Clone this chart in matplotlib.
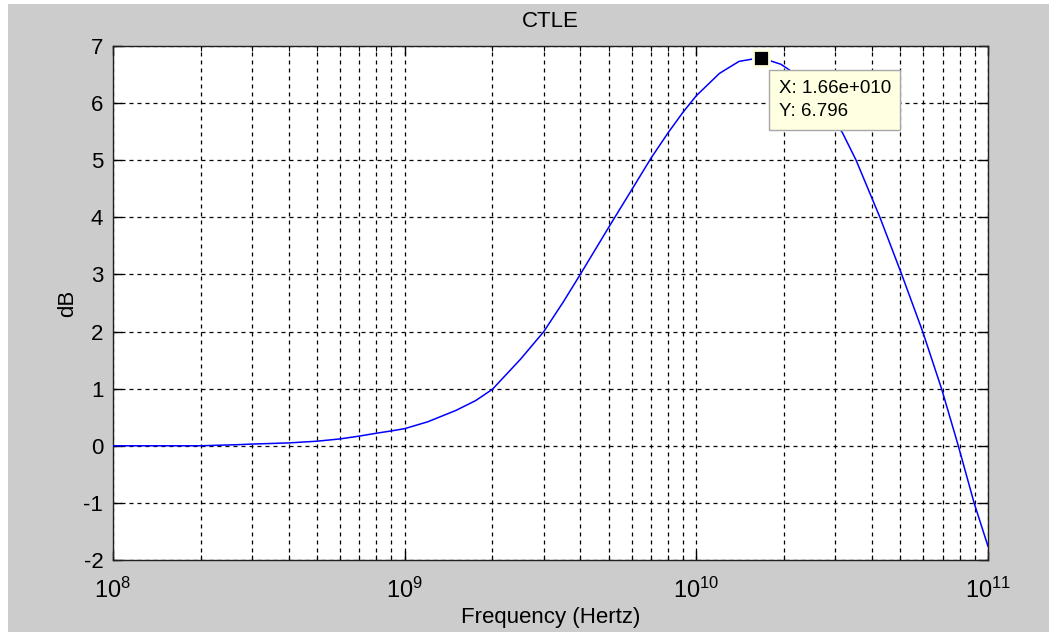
import matplotlib
matplotlib.use("Agg")
import matplotlib.pyplot as plt
from matplotlib.patches import Rectangle
from matplotlib.ticker import LogLocator, NullFormatter, FixedLocator

plt.rcParams['font.family'] = ['Liberation Sans', 'DejaVu Sans']
plt.rcParams['mathtext.default'] = 'regular'
plt.rcParams['axes.unicode_minus'] = False

# values
freq = [1e8, 2e8, 2.7e8, 3e8, 4e8, 5e8, 6e8, 7e8, 8e8, 9e8,
        1e9, 1.2e9, 1.5e9, 1.75e9, 2e9, 2.5e9, 3e9, 3.5e9, 4e9, 5e9,
        6e9, 7e9, 8e9, 9e9, 1e10, 1.2e10, 1.4e10, 1.66e10, 1.95e10, 2.2e10,
        2.5e10, 2.8e10, 3.17e10, 3.53e10, 4.26e10, 5.06e10, 5.97e10, 6.93e10, 7.91e10, 8.96e10,
        1e11]
db = [0, 0, 0.02, 0.03, 0.05, 0.08, 0.12, 0.17, 0.22, 0.26,
      0.30, 0.42, 0.62, 0.79, 0.99, 1.52, 2.0, 2.52, 3.0, 3.82,
      4.48, 5.04, 5.48, 5.84, 6.13, 6.52, 6.73, 6.796, 6.68, 6.5,
      6.2, 5.88, 5.48, 5.0, 4.0, 3.0, 2.0, 1.0, 0.0, -1.0,
      -1.76]

tip_x = 1.66e10
tip_y = 6.796
y_ticks = [-2, -1, 0, 1, 2, 3, 4, 5, 6, 7]

fig = plt.figure(figsize=(10.49, 6.32), dpi=100, facecolor='white')
# matlab style grey figure background (small white margin top/left)
fig.patches.append(Rectangle((8 / 1049, 0), 1, (632 - 4) / 632, transform=fig.transFigure,
                             facecolor='#cccccc', edgecolor='none', zorder=-10))

ax = fig.add_axes([113 / 1049, 72 / 632, 875 / 1049, 514 / 632])
ax.set_facecolor('white')
ax.plot(freq, db, color='#0000ff', lw=1.1, zorder=3)

ax.set_xscale('log')
ax.set_xlim(1e8, 1e11)
ax.set_ylim(-2, 7)
ax.yaxis.set_major_locator(FixedLocator(y_ticks))
ax.xaxis.set_minor_locator(LogLocator(base=10, subs=range(2, 10)))
ax.xaxis.set_minor_formatter(NullFormatter())

dash = (0, (3.2, 3.2))
ax.grid(True, which='major', axis='both', color='black', linestyle=dash, lw=0.9)
ax.grid(True, which='minor', axis='x', color='black', linestyle=dash, lw=0.9)
ax.set_axisbelow(True)

ax.tick_params(which='both', direction='in', top=True, right=True, labelsize=16, color='black')
ax.tick_params(which='major', length=6.5, width=1)
ax.tick_params(which='minor', length=3.5, width=0.8)
ax.tick_params(axis='x', which='major', labelsize=17, pad=13)
ax.tick_params(axis='y', which='major', pad=7)
for s in ax.spines.values():
    s.set_linewidth(1)
    s.set_color('#202020')

ax.set_title('CTLE', fontsize=16, pad=14)
ax.set_xlabel('Frequency (Hertz)', fontsize=16, labelpad=3)
ax.set_ylabel('dB', fontsize=16, labelpad=4)

# data tip
ax.plot([tip_x], [tip_y], marker='s', ms=11, mfc='black', mec='#ffffe0', mew=2,
        zorder=6, clip_on=False)
ax.annotate('X: 1.66e+010\nY: 6.796', xy=(tip_x, tip_y), xytext=(13, -16),
            textcoords='offset points', ha='left', va='top', fontsize=13.5,
            linespacing=1.5, zorder=7,
            bbox=dict(boxstyle='square,pad=0.5', fc='#ffffe1', ec='#a8a8a8', lw=1))

fig.savefig('out.png', dpi=100, facecolor=fig.get_facecolor())
